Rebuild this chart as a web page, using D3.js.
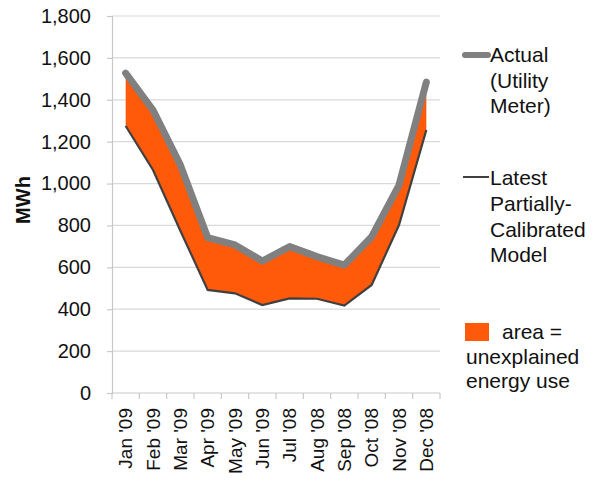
<!DOCTYPE html>
<html><head><meta charset="utf-8">
<script src="https://cdn.jsdelivr.net/npm/d3@7"></script>
<style>
html,body{margin:0;padding:0;background:#fff;}
svg{display:block;font-family:"Liberation Sans",Arial,sans-serif;}
</style></head>
<body>
<svg id="chart" width="595" height="480"></svg>
<script>
const months = ["Jan '09","Feb '09","Mar '09","Apr '09","May '09","Jun '09","Jul '08","Aug '08","Sep '08","Oct '08","Nov '08","Dec '08"];
const actual = [1527,1351,1089,742,707,630,699,651,611,746,993,1484];
const model  = [1275,1065,775,492,476,420,452,450,417,516,802,1256];
const yTicks = [0,200,400,600,800,1000,1200,1400,1600,1800];
const legendActual = ["Actual","(Utility","Meter)"];
const legendModel = ["Latest","Partially-","Calibrated","Model"];
const legendArea = ["area =","unexplained","energy use"];

const svg = d3.select("#chart");
const L = 112, R = 440, T = 16, B = 393;
const x = d3.scaleBand().domain(months).range([L, R]).padding(0);
const cx = m => x(m) + x.bandwidth()/2;
const y = d3.scaleLinear().domain([0,1800]).range([B, T]);

// gridlines
svg.append("g").selectAll("line").data(yTicks.filter(v=>v>0)).join("line")
  .attr("x1", L).attr("x2", R).attr("y1", d=>y(d)).attr("y2", d=>y(d))
  .attr("stroke", "#d9d9d9").attr("stroke-width", 1.2);

// y axis
const ya = svg.append("g").attr("transform", `translate(${L},0)`)
  .call(d3.axisLeft(y).tickValues(yTicks).tickFormat(d3.format(",")).tickSize(5).tickPadding(16));
ya.select(".domain").attr("stroke", "#c8c8c8").attr("stroke-width", 1.2);
ya.selectAll(".tick line").attr("stroke", "#c8c8c8").attr("stroke-width", 1.2);
ya.selectAll(".tick text").attr("font-size", 20).attr("fill", "#111")
  .attr("font-family", "Liberation Sans, Arial, sans-serif");

// x axis line and ticks
svg.append("line").attr("x1", L).attr("x2", R).attr("y1", B).attr("y2", B)
  .attr("stroke", "#c8c8c8").attr("stroke-width", 1.2);
const bounds = months.map(m => x(m)).concat([x.range()[1]]);
svg.append("g").selectAll("line").data(bounds).join("line")
  .attr("x1", d=>d).attr("x2", d=>d).attr("y1", B).attr("y2", B+6)
  .attr("stroke", "#c8c8c8").attr("stroke-width", 1.2);
svg.append("g").selectAll("text").data(months).join("text")
  .attr("transform", d => `translate(${cx(d)},${B+15}) rotate(-90)`)
  .attr("text-anchor", "end").attr("dy", "0.35em")
  .attr("font-size", 19).attr("fill", "#111").text(d=>d);

// y title
svg.append("text").attr("transform", "translate(23,200) rotate(-90)")
  .attr("text-anchor", "middle").attr("dy", "0.35em")
  .attr("font-size", 20).attr("font-weight", "bold").attr("fill", "#111").text("MWh");

// area
const idx = d3.range(months.length);
svg.append("path").datum(idx)
  .attr("d", d3.area().x(i=>cx(months[i])).y0(i=>y(model[i])).y1(i=>y(actual[i])))
  .attr("fill", "#ff5a0a");

// model line
svg.append("path").datum(idx)
  .attr("d", d3.line().x(i=>cx(months[i])).y(i=>y(model[i])))
  .attr("fill", "none").attr("stroke", "#404040").attr("stroke-width", 2.2);

// actual line
svg.append("path").datum(idx)
  .attr("d", d3.line().x(i=>cx(months[i])).y(i=>y(actual[i])))
  .attr("fill", "none").attr("stroke", "#808080").attr("stroke-width", 7)
  .attr("stroke-linejoin", "round").attr("stroke-linecap", "round");

// legend
const lg = svg.append("g").attr("font-size", 21).attr("fill", "#111");
lg.append("line").attr("x1", 465).attr("x2", 488).attr("y1", 55).attr("y2", 55)
  .attr("stroke", "#808080").attr("stroke-width", 6).attr("stroke-linecap", "round");
lg.selectAll("text.a").data(legendActual).join("text").attr("class","a")
  .attr("x", 490).attr("y", (d,i)=>62 + i*25.5).text(d=>d);
lg.append("line").attr("x1", 463).attr("x2", 489).attr("y1", 177).attr("y2", 177)
  .attr("stroke", "#404040").attr("stroke-width", 2);
lg.selectAll("text.m").data(legendModel).join("text").attr("class","m")
  .attr("x", 490).attr("y", (d,i)=>185 + i*25.8).text(d=>d);
lg.append("rect").attr("x", 465).attr("y", 323).attr("width", 24).attr("height", 18)
  .attr("fill", "#ff5a0a");
lg.selectAll("text.r").data(legendArea).join("text").attr("class","r")
  .attr("x", (d,i)=> i===0 ? 502 : 466).attr("y", (d,i)=>339 + i*24.5).text(d=>d);
</script>
</body></html>
